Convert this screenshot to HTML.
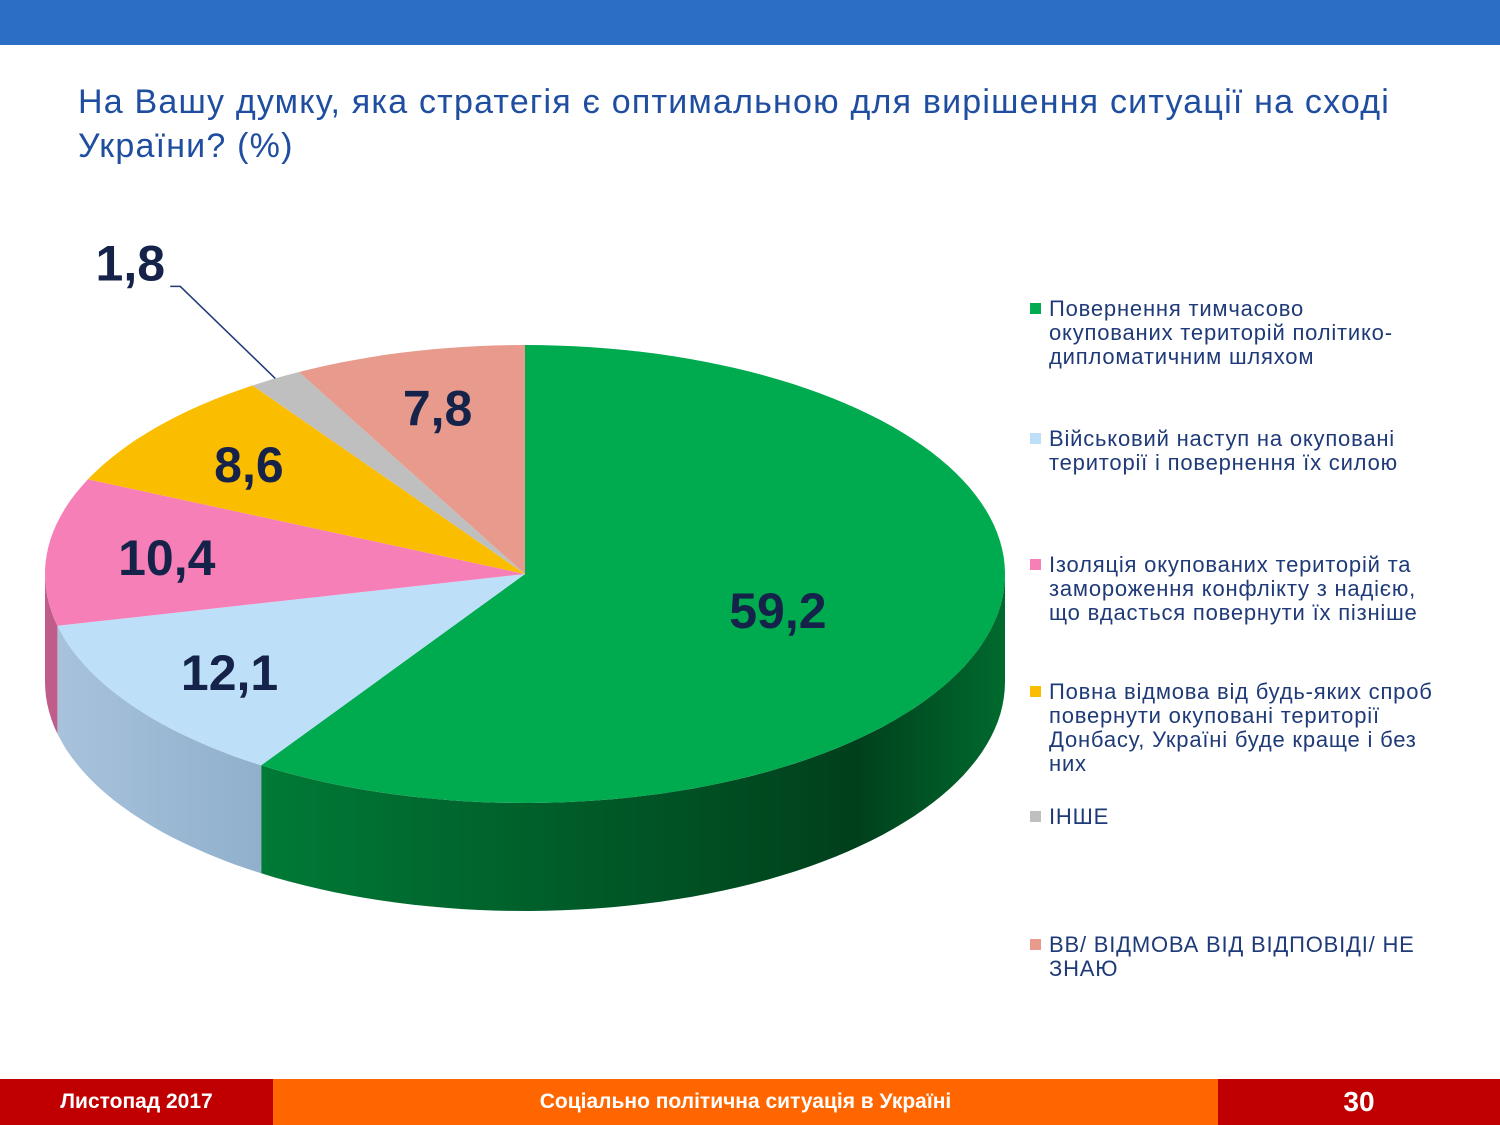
<!DOCTYPE html>
<html><head><meta charset="utf-8"><style>
body{margin:0;width:1500px;height:1125px;position:relative;background:#fff;font-family:"Liberation Sans",sans-serif;overflow:hidden}
.top{position:absolute;left:0;top:0;width:1500px;height:45px;background:#2a6ec6}
.title{position:absolute;left:78px;top:80px;width:1375px;font-size:34px;letter-spacing:1.2px;line-height:44px;color:#1f4ea0}
.leg{position:absolute;left:1030px;width:408px;font-size:22px;letter-spacing:0.8px;line-height:24px;color:#1f3a78}
.leg i{position:absolute;left:0;top:6px;width:11px;height:11px}
.leg span{display:block;margin-left:19px}
.foot{position:absolute;top:1079px;height:46px;color:#fff;font-weight:bold;font-size:21px;line-height:46px;text-align:center}
</style></head><body>
<div class="top"></div>
<div class="title">На Вашу думку, яка стратегія є оптимальною для вирішення ситуації на сході України? (%)</div>
<svg id="pie" width="1500" height="1125" style="position:absolute;left:0;top:0">
<defs>
<linearGradient id="gS" x1="0" x2="1"><stop offset="0" stop-color="#007a36"/><stop offset="0.8" stop-color="#00401c"/><stop offset="1" stop-color="#006a2e"/></linearGradient>
<linearGradient id="bS" x1="0" x2="1"><stop offset="0" stop-color="#a8c2dc"/><stop offset="1" stop-color="#90b0cc"/></linearGradient>
</defs>
</svg>
<div class="leg" style="top:297px"><i style="background:#00aa4f"></i><span>Повернення тимчасово<br>окупованих територій політико-дипломатичним шляхом</span></div>
<div class="leg" style="top:427px"><i style="background:#bde0f8"></i><span>Військовий наступ на окуповані території і повернення їх силою</span></div>
<div class="leg" style="top:553px"><i style="background:#f77fb8"></i><span>Ізоляція окупованих територій та замороження конфлікту з надією, що вдасться повернути їх пізніше</span></div>
<div class="leg" style="top:680px"><i style="background:#fbbd00"></i><span>Повна відмова від будь-яких спроб повернути окуповані території Донбасу, Україні буде краще і без них</span></div>
<div class="leg" style="top:805px"><i style="background:#bfbfbf"></i><span>ІНШЕ</span></div>
<div class="leg" style="top:933px"><i style="background:#e89a8c"></i><span>ВВ/ ВІДМОВА ВІД ВІДПОВІДІ/ НЕ ЗНАЮ</span></div>
<div class="foot" style="left:0;width:273px;background:#c00000">Листопад 2017</div>
<div class="foot" style="left:273px;width:945px;background:#ff6600">Соціально політична ситуація в Україні</div>
<div class="foot" style="left:1218px;width:282px;background:#c00000;font-size:28px">30</div>
<script>
const categories=["diplomatic","military","isolation","refusal","other","dk"];
const values=[59.2,12.1,10.4,8.6,1.8,7.8];
const labels=["59,2","12,1","10,4","8,6","1,8","7,8"];
const colors=["#00aa4f","#bde0f8","#f77fb8","#fbbd00","#bfbfbf","#e89a8c"];
const sideFills=["url(#gS)","url(#bS)","#c05c8a","#c08f00","#909090","#b07060"];
const svg=document.getElementById('pie');
const NS="http://www.w3.org/2000/svg";
const cx=525,cy=574,rx=480,ry=229,depth=108;
const total=values.reduce((a,b)=>a+b,0);
function pt(a,dy){const r=a*Math.PI/180;return [cx+rx*Math.sin(r),cy-ry*Math.cos(r)+(dy||0)];}
function arc(a1,a2,dy){let d="";const n=Math.max(2,Math.ceil((a2-a1)/2));for(let i=0;i<=n;i++){const p=pt(a1+(a2-a1)*i/n,dy);d+=(i?"L":"")+p[0].toFixed(1)+","+p[1].toFixed(1);}return d;}
let a=0;const slices=[];
values.forEach((v,i)=>{const s=a,e=a+v/total*360;slices.push([s,e]);a=e;});
slices.forEach(([s,e],i)=>{
  const s2=Math.max(s,90),e2=Math.min(e,270);if(e2<=s2)return;
  const top=arc(s2,e2,0);
  const bp=[];const n=Math.ceil((e2-s2)/2);for(let k=n;k>=0;k--){bp.push(pt(s2+(e2-s2)*k/n,depth));}
  const p=document.createElementNS(NS,'path');
  p.setAttribute('d',"M"+top+"L"+bp.map(q=>q[0].toFixed(1)+","+q[1].toFixed(1)).join("L")+"Z");
  p.setAttribute('fill',sideFills[i]);
  
  
  svg.appendChild(p);
});
slices.forEach(([s,e],i)=>{
  const p=document.createElementNS(NS,'path');
  p.setAttribute('d',"M"+cx+","+cy+"L"+arc(s,e,0)+"Z");
  p.setAttribute('fill',colors[i]);
  
  
  svg.appendChild(p);
});
slices.forEach(([s,e],i)=>{
  const m=(s+e)/2;let x,y;
  const t=document.createElementNS(NS,'text');
  if(values[i]<3){
    const p0=pt(m,0),p1=[p0[0]-95,p0[1]-92];
    const l=document.createElementNS(NS,'polyline');
    l.setAttribute('points',p0[0]+","+p0[1]+" "+p1[0]+","+p1[1]+" "+(p1[0]-10)+","+p1[1]);
    l.setAttribute('fill','none');l.setAttribute('stroke','#1f3a78');l.setAttribute('stroke-width','1.5');
    
    
    svg.appendChild(l);
    x=p1[0]-50;y=p1[1]-6;
  } else {
    const f=values[i]>50?0.55:0.75;
    const r=m*Math.PI/180;x=cx+rx*f*Math.sin(r);y=cy-ry*f*Math.cos(r)+18;
  }
  t.setAttribute('x',x.toFixed(1));t.setAttribute('y',y.toFixed(1));
  t.setAttribute('text-anchor','middle');t.setAttribute('font-size','50');t.setAttribute('font-weight','bold');
  t.setAttribute('fill','#15234a');t.setAttribute('font-family','Liberation Sans, sans-serif');
  t.textContent=labels[i];
  
  
  svg.appendChild(t);
});
</script>
</body></html>
